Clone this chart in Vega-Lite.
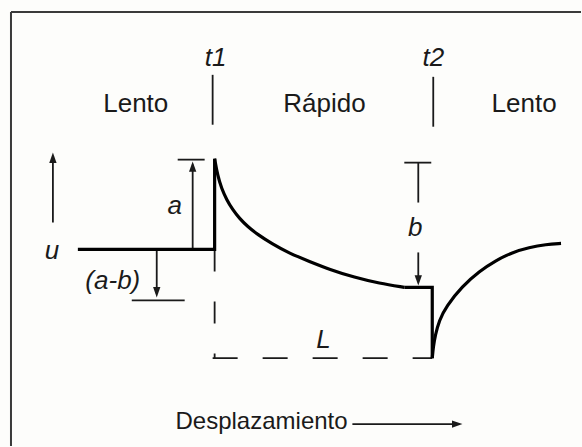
{
  "$schema": "https://vega.github.io/schema/vega-lite/v6.json",
  "width": 582,
  "height": 447,
  "autosize": {"type": "fit", "contains": "padding"},
  "padding": 0,
  "background": "#fdfdfb",
  "config": {"view": {"stroke": null}},
  "datasets": {
    "frame": [
      {"x": 11, "y": 12, "x2": 582, "y2": 12},
      {"x": 11, "y": 12, "x2": 11, "y2": 447}
    ],
    "thin": [
      {"x": 213, "y": 75, "x2": 213, "y2": 125},
      {"x": 434, "y": 77, "x2": 434, "y2": 127},
      {"x": 178, "y": 160, "x2": 205, "y2": 160},
      {"x": 193, "y": 250, "x2": 193, "y2": 165},
      {"x": 53, "y": 223, "x2": 53, "y2": 157},
      {"x": 157, "y": 250, "x2": 157, "y2": 294},
      {"x": 132, "y": 301, "x2": 185, "y2": 301},
      {"x": 405, "y": 163, "x2": 432, "y2": 163},
      {"x": 419, "y": 163, "x2": 419, "y2": 203},
      {"x": 419, "y": 253, "x2": 419, "y2": 282},
      {"x": 353, "y": 425, "x2": 459, "y2": 425}
    ],
    "heads": [
      {"x": 53, "y": 158, "dir": "up"},
      {"x": 193, "y": 167, "dir": "up"},
      {"x": 157, "y": 293, "dir": "down"},
      {"x": 419, "y": 281, "dir": "down"},
      {"x": 458, "y": 425, "dir": "right"}
    ],
    "straight": [
      {"seg": "A", "o": 1, "x": 78, "y": 250},
      {"seg": "A", "o": 2, "x": 215, "y": 250},
      {"seg": "A", "o": 3, "x": 215, "y": 159},
      {"seg": "C", "o": 1, "x": 405, "y": 288},
      {"seg": "C", "o": 2, "x": 433, "y": 288},
      {"seg": "C", "o": 3, "x": 433, "y": 359}
    ],
    "curves": [
      {"seg": "decay", "x": 215, "y": 159},
      {"seg": "decay", "x": 218, "y": 176},
      {"seg": "decay", "x": 222, "y": 189},
      {"seg": "decay", "x": 227, "y": 200},
      {"seg": "decay", "x": 233, "y": 210},
      {"seg": "decay", "x": 240, "y": 219},
      {"seg": "decay", "x": 248, "y": 227},
      {"seg": "decay", "x": 258, "y": 235},
      {"seg": "decay", "x": 272, "y": 244},
      {"seg": "decay", "x": 290, "y": 254},
      {"seg": "decay", "x": 310, "y": 262},
      {"seg": "decay", "x": 330, "y": 270},
      {"seg": "decay", "x": 355, "y": 278},
      {"seg": "decay", "x": 380, "y": 284},
      {"seg": "decay", "x": 405, "y": 288},
      {"seg": "rec", "x": 433, "y": 359},
      {"seg": "rec", "x": 434, "y": 348},
      {"seg": "rec", "x": 436, "y": 336},
      {"seg": "rec", "x": 440, "y": 321},
      {"seg": "rec", "x": 447, "y": 307},
      {"seg": "rec", "x": 463, "y": 287},
      {"seg": "rec", "x": 480, "y": 272},
      {"seg": "rec", "x": 497, "y": 261},
      {"seg": "rec", "x": 513, "y": 253},
      {"seg": "rec", "x": 530, "y": 248},
      {"seg": "rec", "x": 547, "y": 245},
      {"seg": "rec", "x": 562, "y": 244}
    ],
    "dashV": [
      {"o": 1, "x": 215, "y": 250},
      {"o": 2, "x": 215, "y": 359}
    ],
    "dashH": [
      {"o": 1, "x": 213, "y": 359},
      {"o": 2, "x": 433, "y": 359}
    ],
    "labels": [
      {"x": 216, "y": 66, "t": "t1"},
      {"x": 434, "y": 66, "t": "t2"},
      {"x": 175, "y": 214, "t": "a"},
      {"x": 416, "y": 237, "t": "b"},
      {"x": 52, "y": 260, "t": "u"},
      {"x": 113, "y": 290, "t": "(a-b)"},
      {"x": 324, "y": 349, "t": "L"}
    ],
    "words": [
      {"x": 136, "y": 112, "t": "Lento"},
      {"x": 325, "y": 112, "t": "Rápido"},
      {"x": 525, "y": 112, "t": "Lento"}
    ],
    "xlab": [
      {"x": 262, "y": 430, "t": "Desplazamiento"}
    ]
  },
  "layer": [
    {
      "data": {"name": "frame"},
      "mark": {"type": "rule", "color": "#3a3a3a", "strokeWidth": 2},
      "encoding": {
        "x": {"field": "x", "type": "quantitative", "scale": {"domain": [0, 582], "nice": false, "zero": false}, "axis": null},
        "y": {"field": "y", "type": "quantitative", "scale": {"domain": [0, 447], "nice": false, "zero": false, "reverse": true}, "axis": null},
        "x2": {"field": "x2"},
        "y2": {"field": "y2"}
      }
    },
    {
      "data": {"name": "thin"},
      "mark": {"type": "rule", "color": "#1a1a1a", "strokeWidth": 1.8},
      "encoding": {
        "x": {"field": "x", "type": "quantitative"},
        "y": {"field": "y", "type": "quantitative"},
        "x2": {"field": "x2"},
        "y2": {"field": "y2"}
      }
    },
    {
      "data": {"name": "heads"},
      "mark": {"type": "point", "filled": true, "color": "#1a1a1a", "opacity": 1, "size": 110, "strokeWidth": 0},
      "encoding": {
        "x": {"field": "x", "type": "quantitative"},
        "y": {"field": "y", "type": "quantitative"},
        "shape": {
          "field": "dir", "type": "nominal", "legend": null,
          "scale": {"domain": ["up", "down", "right"], "range": ["M0,-1L-0.7,1L0.7,1Z", "M0,1L-0.7,-1L0.7,-1Z", "M1,0L-1,-0.7L-1,0.7Z"]}
        }
      }
    },
    {
      "data": {"name": "dashV"},
      "mark": {"type": "line", "color": "#1a1a1a", "strokeWidth": 1.8, "strokeDash": [22, 30]},
      "encoding": {
        "x": {"field": "x", "type": "quantitative"},
        "y": {"field": "y", "type": "quantitative"},
        "order": {"field": "o"}
      }
    },
    {
      "data": {"name": "dashH"},
      "mark": {"type": "line", "color": "#1a1a1a", "strokeWidth": 1.8, "strokeDash": [25, 25]},
      "encoding": {
        "x": {"field": "x", "type": "quantitative"},
        "y": {"field": "y", "type": "quantitative"},
        "order": {"field": "o"}
      }
    },
    {
      "data": {"name": "straight"},
      "mark": {"type": "line", "color": "#000000", "strokeWidth": 3.2, "strokeJoin": "miter"},
      "encoding": {
        "x": {"field": "x", "type": "quantitative"},
        "y": {"field": "y", "type": "quantitative"},
        "detail": {"field": "seg"},
        "order": {"field": "o"}
      }
    },
    {
      "data": {"name": "curves"},
      "mark": {"type": "line", "color": "#000000", "strokeWidth": 3.2, "interpolate": "basis"},
      "encoding": {
        "x": {"field": "x", "type": "quantitative"},
        "y": {"field": "y", "type": "quantitative"},
        "detail": {"field": "seg"}
      }
    },
    {
      "data": {"name": "labels"},
      "mark": {"type": "text", "font": "Liberation Sans", "fontStyle": "italic", "fontSize": 26, "align": "center", "baseline": "alphabetic", "color": "#1a1a1a"},
      "encoding": {
        "x": {"field": "x", "type": "quantitative"},
        "y": {"field": "y", "type": "quantitative"},
        "text": {"field": "t"}
      }
    },
    {
      "data": {"name": "words"},
      "mark": {"type": "text", "font": "Liberation Sans", "fontSize": 26, "align": "center", "baseline": "alphabetic", "color": "#1a1a1a"},
      "encoding": {
        "x": {"field": "x", "type": "quantitative"},
        "y": {"field": "y", "type": "quantitative"},
        "text": {"field": "t"}
      }
    },
    {
      "data": {"name": "xlab"},
      "mark": {"type": "text", "font": "Liberation Sans", "fontSize": 24, "align": "center", "baseline": "alphabetic", "color": "#1a1a1a"},
      "encoding": {
        "x": {"field": "x", "type": "quantitative"},
        "y": {"field": "y", "type": "quantitative"},
        "text": {"field": "t"}
      }
    }
  ]
}
